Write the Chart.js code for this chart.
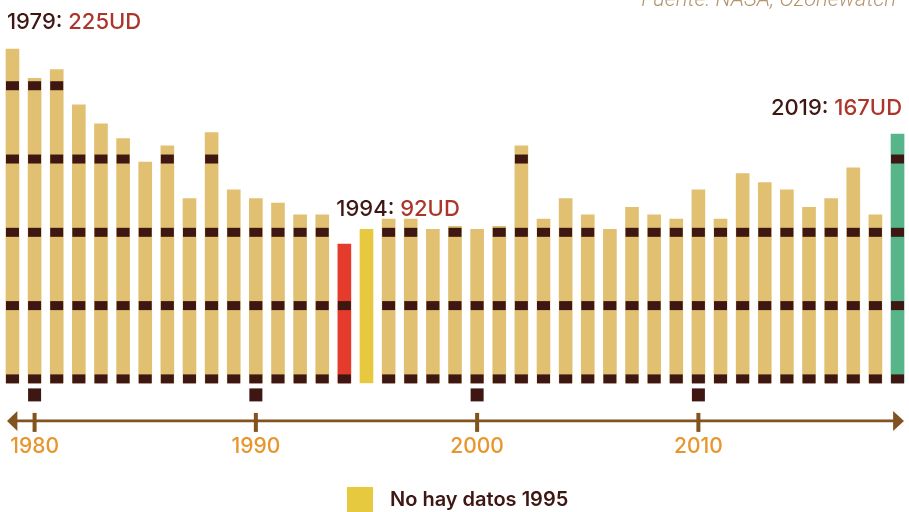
<!DOCTYPE html>
<html><head><meta charset="utf-8">
<script src="https://cdn.jsdelivr.net/npm/chart.js@4.4.0/dist/chart.umd.min.js"></script>
<style>html,body{margin:0;padding:0;background:#fff;overflow:hidden}canvas{display:block}</style>
</head><body><canvas id="c" width="909" height="512"></canvas>
<script>
const years = [1979,1980,1981,1982,1983,1984,1985,1986,1987,1988,1989,1990,1991,1992,1993,1994,1995,1996,1997,1998,1999,2000,2001,2002,2003,2004,2005,2006,2007,2008,2009,2010,2011,2012,2013,2014,2015,2016,2017,2018,2019];
const ozoneDU = [225,205,211,187,174,164,148,159,123,168,129,123,120,112,112,92,102,109,109,102,104,102,104,159,109,123,112,102,117,112,109,129,109,140,134,129,117,123,144,112,167];
const gridValues = [0,50,100,150,200];
const tickYears = [1980,1990,2000,2010];
const firstYear = 1979, lowYear = 1994, noDataYear = 1995, lastYear = 2019;
const unit = "UD";
const sourceText = "Fuente: NASA, Ozonewatch";
const legendText = "No hay datos 1995";

const TAN = '#e1c072', DARK = '#3e1612', RED = '#e53b2d', YEL = '#e6c93f', GREEN = '#56b68a';
const AXIS = '#80531f', TICKLBL = '#e8952d', VALRED = '#ad352b';
const FONT = 'Inter, "Noto Sans", sans-serif';

const barColors = years.map(y => y === lowYear ? RED : y === noDataYear ? YEL : y === lastYear ? GREEN : TAN);

function labelText(ctx, x, yb, year, val, align) {
  const a = year + ': ', b = val + unit;
  ctx.font = '500 22px ' + FONT;
  const wa = ctx.measureText(a).width, wb = ctx.measureText(b).width;
  let x0 = align === 'right' ? x - wa - wb : x;
  ctx.textAlign = 'left'; ctx.textBaseline = 'alphabetic';
  ctx.fillStyle = DARK; ctx.fillText(a, x0, yb);
  ctx.fillStyle = VALRED; ctx.fillText(b, x0 + wa, yb);
}

const decor = {
  id: 'decor',
  afterDatasetsDraw(chart) {
    const { ctx, scales: { x, y } } = chart;
    const meta = chart.getDatasetMeta(0);
    const bandH = 9;
    ctx.save();
    ctx.fillStyle = DARK;
    meta.data.forEach((bar, i) => {
      if (years[i] === noDataYear) return;
      gridValues.forEach(g => {
        const top = y.getPixelForValue(g) - bandH / 2;
        if (bar.y < top) ctx.fillRect(bar.x - bar.width / 2, top, bar.width, bandH);
      });
    });
    const y0 = y.getPixelForValue(0);
    tickYears.forEach(yr => {
      const bar = meta.data[years.indexOf(yr)];
      ctx.fillRect(bar.x - bar.width / 2, y0 + 9.5, bar.width, 13);
    });
    // timeline axis
    const ly = y0 + 42;
    const xl = chart.chartArea.left, xr = chart.chartArea.right;
    ctx.strokeStyle = AXIS; ctx.fillStyle = AXIS; ctx.lineWidth = 2.6;
    ctx.beginPath(); ctx.moveTo(xl + 12, ly); ctx.lineTo(xr - 12, ly); ctx.stroke();
    ctx.beginPath(); ctx.moveTo(xl + 5.6, ly); ctx.lineTo(xl + 16, ly - 10); ctx.lineTo(xl + 16, ly + 10); ctx.closePath(); ctx.fill();
    ctx.beginPath(); ctx.moveTo(xr - 4.6, ly); ctx.lineTo(xr - 15.5, ly - 10); ctx.lineTo(xr - 15.5, ly + 10); ctx.closePath(); ctx.fill();
    ctx.font = '500 21px ' + FONT;
    ctx.textAlign = 'center'; ctx.textBaseline = 'alphabetic';
    tickYears.forEach(yr => {
      const cx = x.getPixelForValue(years.indexOf(yr));
      ctx.fillStyle = AXIS;
      ctx.fillRect(cx - 2, ly - 8, 4, 19);
      ctx.fillStyle = TICKLBL;
      ctx.fillText(String(yr), cx, ly + 32.5);
    });
    // annotations
    const iF = years.indexOf(firstYear), iL = years.indexOf(lowYear), iZ = years.indexOf(lastYear);
    const bF = meta.data[iF], bL = meta.data[iL], bZ = meta.data[iZ];
    labelText(ctx, bF.x - bF.width / 2 + 1, y.getPixelForValue(ozoneDU[iF]) - 20, firstYear, ozoneDU[iF], 'left');
    labelText(ctx, bL.x - bL.width / 2 - 1.5, y.getPixelForValue(ozoneDU[iL]) - 28.5, lowYear, ozoneDU[iL], 'left');
    labelText(ctx, bZ.x + bZ.width / 2 - 2, y.getPixelForValue(ozoneDU[iZ]) - 19, lastYear, ozoneDU[iZ], 'right');
    // source
    ctx.font = 'italic 300 22px Roboto, ' + FONT;
    ctx.fillStyle = '#b49570'; ctx.textAlign = 'right';
    ctx.fillText(sourceText, 896, 6);
    // legend
    ctx.fillStyle = YEL;
    ctx.fillRect(347, 487, 26, 25);
    ctx.font = '600 20px ' + FONT;
    ctx.fillStyle = DARK; ctx.textAlign = 'left';
    ctx.fillText(legendText, 390, 506);
    ctx.restore();
  }
};

new Chart(document.getElementById('c'), {
  type: 'bar',
  data: {
    labels: years.map(String),
    datasets: [{ data: ozoneDU, backgroundColor: barColors, borderWidth: 0, barThickness: 13, base: -3 }]
  },
  options: {
    responsive: false, animation: false, devicePixelRatio: 1,
    layout: { padding: { left: 1.4, right: 0.4, top: 27.1, bottom: 128.7 } },
    plugins: { legend: { display: false }, tooltip: { enabled: false } },
    scales: {
      x: { display: false },
      y: { display: false, min: -3, max: 240 }
    }
  },
  plugins: [decor]
});
</script>
</body></html>
